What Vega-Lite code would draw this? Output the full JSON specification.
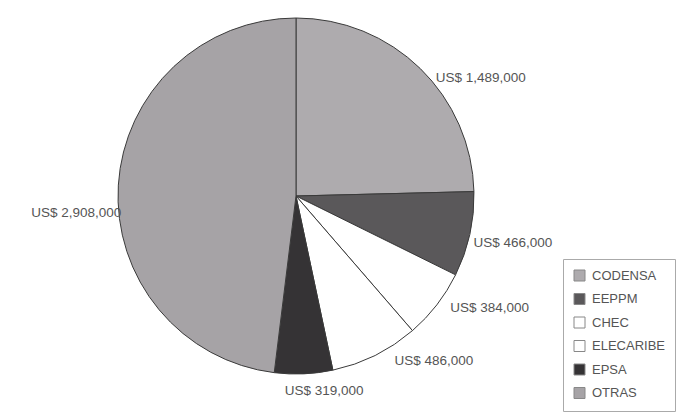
{
  "$schema": "https://vega.github.io/schema/vega-lite/v6.json",
  "width": 568,
  "height": 368,
  "autosize": {"type": "none"},
  "padding": {"left": 12, "top": 12, "right": 109, "bottom": 37},
  "background": "white",
  "config": {"view": {"stroke": null}, "font": "Liberation Sans"},
  "data": {
    "values": [
      {"empresa": "CODENSA", "valor": 1489000, "etiqueta": "US$ 1,489,000", "orden": 1},
      {"empresa": "EEPPM", "valor": 466000, "etiqueta": "US$ 466,000", "orden": 2},
      {"empresa": "CHEC", "valor": 384000, "etiqueta": "US$ 384,000", "orden": 3},
      {"empresa": "ELECARIBE", "valor": 486000, "etiqueta": "US$ 486,000", "orden": 4},
      {"empresa": "EPSA", "valor": 319000, "etiqueta": "US$ 319,000", "orden": 5},
      {"empresa": "OTRAS", "valor": 2908000, "etiqueta": "US$ 2,908,000", "orden": 6}
    ]
  },
  "encoding": {
    "theta": {"field": "valor", "type": "quantitative", "stack": true},
    "order": {"field": "orden", "type": "quantitative"}
  },
  "layer": [
    {
      "mark": {"type": "arc", "radius": 178, "stroke": "#3a3a3a", "strokeWidth": 1},
      "encoding": {
        "color": {
          "field": "empresa",
          "type": "nominal",
          "sort": null,
          "scale": {
            "domain": ["CODENSA", "EEPPM", "CHEC", "ELECARIBE", "EPSA", "OTRAS"],
            "range": ["#aeabae", "#5a585a", "#ffffff", "#ffffff", "#353335", "#a6a3a6"]
          },
          "legend": {
            "title": null,
            "orient": "none",
            "legendX": 551,
            "legendY": 247,
            "symbolType": "square",
            "symbolSize": 121,
            "symbolStrokeColor": "#888888",
            "symbolStrokeWidth": 1,
            "labelFont": "Liberation Sans",
            "labelFontSize": 13,
            "labelColor": "#555555",
            "rowPadding": 8.5,
            "padding": 10,
            "strokeColor": "#aaaaaa",
            "labelLimit": 200,
            "labelOffset": 6
          }
        }
      }
    },
    {
      "mark": {
        "type": "text",
        "radius": 190,
        "fontSize": 13.5,
        "font": "Liberation Sans",
        "color": "#555555",
        "align": {"expr": "datum.empresa === 'OTRAS' ? 'right' : (datum.empresa === 'EPSA' ? 'center' : 'left')"},
        "dx": {"expr": "datum.empresa === 'CODENSA' ? 7 : datum.empresa === 'EEPPM' ? -8 : datum.empresa === 'CHEC' ? 4 : datum.empresa === 'ELECARIBE' ? 14 : datum.empresa === 'EPSA' ? 20 : 15"},
        "dy": {"expr": "datum.empresa === 'CODENSA' ? 18 : datum.empresa === 'EEPPM' ? 6 : datum.empresa === 'CHEC' ? -4 : datum.empresa === 'ELECARIBE' ? -5 : datum.empresa === 'EPSA' ? 5 : 29"}
      },
      "encoding": {
        "text": {"field": "etiqueta", "type": "nominal"}
      }
    }
  ]
}
